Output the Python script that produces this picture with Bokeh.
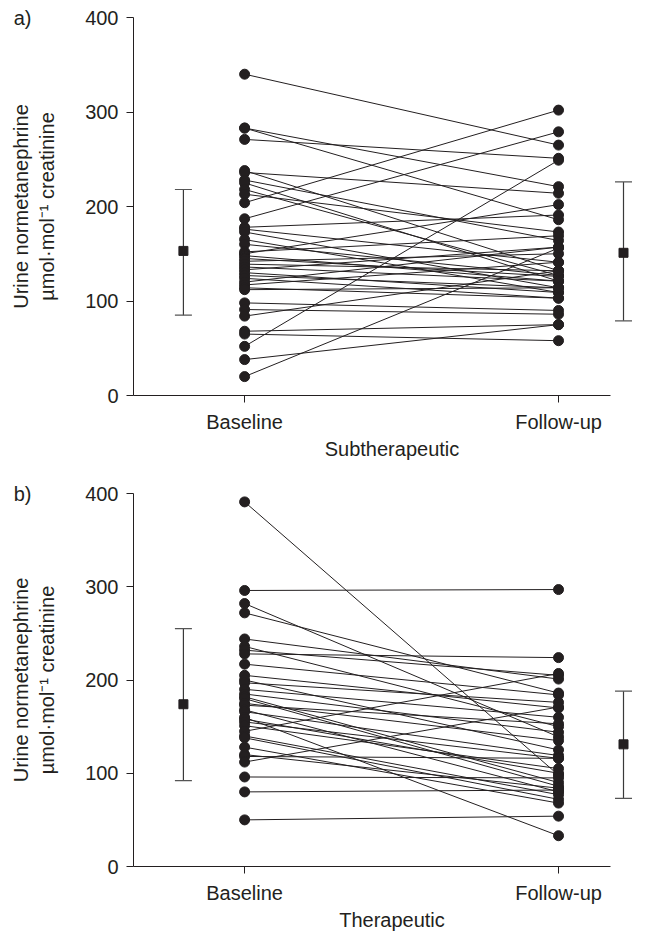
from bokeh.plotting import figure
from bokeh.layouts import column
from bokeh.models import FixedTicker, Whisker, ColumnDataSource, TeeHead, Range1d, LinearAxis
from bokeh.embed import file_html
from bokeh.resources import INLINE

groups = ["Baseline", "Follow-up"]
y_ticks = [0, 100, 200, 300, 400]

# a) Subtherapeutic: paired values (baseline -> follow-up)
sub_baseline = [340, 283, 283, 271, 238, 236, 228, 225, 218, 213, 204, 187, 178, 176, 173,
                165, 160, 152, 150, 148, 145, 142, 139, 136, 133, 130, 127, 124, 120, 117,
                114, 112, 98, 91, 84, 68, 65, 52, 38, 20]
sub_followup = [265, 221, 186, 251, 132, 214, 164, 121, 127, 173, 302, 279, 191, 141, 114,
                109, 127, 169, 202, 121, 126, 150, 132, 121, 157, 109, 114, 103, 157, 141,
                103, 114, 90, 86, 132, 75, 58, 249, 75, 156]
sub_mean = [153, 151]
sub_lower = [85, 79]
sub_upper = [218, 226]

# b) Therapeutic
ther_baseline = [391, 296, 282, 272, 244, 236, 232, 228, 217, 205, 200, 197, 190, 185, 182,
                 180, 175, 173, 168, 166, 160, 158, 155, 151, 145, 140, 138, 128, 120, 118,
                 112, 96, 80, 50]
ther_followup = [98, 297, 139, 186, 201, 150, 205, 224, 184, 170, 125, 176, 160, 144, 90,
                 86, 135, 153, 80, 119, 33, 100, 116, 105, 207, 77, 72, 68, 84, 116,
                 171, 95, 82, 54]
ther_mean = [174, 131]
ther_lower = [92, 73]
ther_upper = [255, 188]

FONT = "Liberation Sans"
INK = "#231f20"
FS = "20px"


def panel(tag, xlabel, base, follow, mean, lower, upper, height, top, bottom):
    p = figure(width=655, height=height, output_backend="svg", toolbar_location=None,
               x_range=Range1d(0.646, 2.293), y_range=Range1d(0, 400),
               min_border_left=133, min_border_right=5,
               min_border_top=top, min_border_bottom=bottom)
    p.outline_line_color = None
    p.xgrid.visible = False
    p.ygrid.visible = False
    p.background_fill_color = "white"
    p.border_fill_color = "white"

    for bv, fv in zip(base, follow):
        p.line([1, 2], [bv, fv], line_color=INK, line_width=1)
    p.scatter([1] * len(base), base, size=10, color=INK)
    p.scatter([2] * len(follow), follow, size=10, color=INK)

    # mean +/- SD markers
    src = ColumnDataSource(dict(x=[0.805, 2.207], mean=mean, lower=lower, upper=upper))
    w = Whisker(source=src, base="x", lower="lower", upper="upper", dimension="height",
                line_color="#3a3a3a", line_width=1.2,
                upper_head=TeeHead(size=17, line_color="#555555", line_width=1.2),
                lower_head=TeeHead(size=17, line_color="#555555", line_width=1.2))
    p.add_layout(w)
    p.scatter("x", "mean", source=src, marker="square", size=9, color=INK)

    for ax in (p.xaxis[0], p.yaxis[0]):
        ax.axis_line_color = INK
        ax.major_tick_line_color = INK
        ax.major_tick_in = 0
        ax.major_tick_out = 7
        ax.minor_tick_line_color = None
        ax.major_label_text_font = FONT
        ax.major_label_text_font_size = FS
        ax.major_label_text_color = INK
        ax.axis_label_text_font = FONT
        ax.axis_label_text_font_size = FS
        ax.axis_label_text_font_style = "normal"
        ax.axis_label_text_color = INK

    p.xaxis.ticker = FixedTicker(ticks=[1, 2])
    p.xaxis.major_label_overrides = {1: groups[0], 2: groups[1]}
    p.xaxis.bounds = (0.646, 2.166)
    p.xaxis.axis_label = xlabel
    p.xaxis.major_label_standoff = 8
    p.xaxis.axis_label_standoff = 2

    p.yaxis.ticker = FixedTicker(ticks=y_ticks)
    p.yaxis.major_label_standoff = 8
    p.yaxis.axis_label = "Urine normetanephrine\nµmol·mol⁻¹ creatinine"
    p.yaxis.axis_label_standoff = 24

    # panel tag "a)" / "b)" as an outer, line-less axis label at the top of the scale
    tag_axis = LinearAxis(ticker=FixedTicker(ticks=[400]), major_label_overrides={400: tag},
                          axis_line_color=None, major_tick_line_color=None,
                          minor_tick_line_color=None, major_tick_out=0, major_tick_in=0,
                          major_label_standoff=-25, major_label_text_font=FONT,
                          major_label_text_font_size=FS, major_label_text_color=INK)
    p.add_layout(tag_axis, "left")
    return p


pa = panel("a)", "Subtherapeutic", sub_baseline, sub_followup, sub_mean, sub_lower, sub_upper,
           468, 17, 73)
pb = panel("b)", "Therapeutic", ther_baseline, ther_followup, ther_mean, ther_lower, ther_upper,
           465, 25, 65)

layout = column(pa, pb)
open("out.html", "w").write(file_html(layout, INLINE))
